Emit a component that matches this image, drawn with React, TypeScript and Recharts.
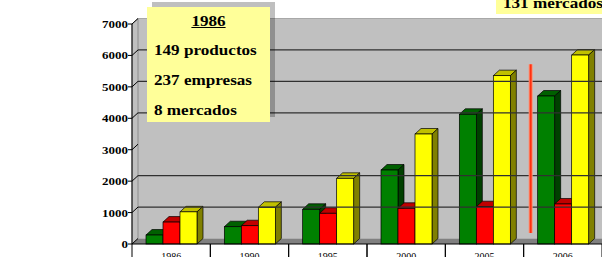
import React from "react";
import { BarChart, Bar, XAxis, YAxis, ReferenceLine, ReferenceArea } from "recharts";

const years = ["1986", "1990", "1995", "2000", "2005", "2006"];
const green = [285, 550, 1104, 2354, 4127, 4709];
const red = [698, 582, 977, 1136, 1187, 1273];
const yellow = [1023, 1168, 2090, 3500, 5356, 6013];
const yTicks = [0, 1000, 2000, 3000, 4000, 5000, 6000, 7000];
const gridValues = [1000, 2000, 4000, 5000, 6000];
const note1986Title = "1986";
const note1986 = ["149 productos", "237 empresas", "8 mercados"];
const note2006 = "131 mercados";
// red divider drawn just before the 2006 group
const dividerYear = "2006";
const dividerRange = [350, 5718];

const data = years.map((year, i) => ({
  year,
  green: green[i],
  red: red[i],
  yellow: yellow[i],
}));

const DX = 6;
const DY = 5.5;
const FONT = '"Liberation Serif", "Times New Roman", serif';
const HALF_BAND = 470 / 6 / 2;

const bar3d = (front: string, top: string, side: string) => (props: any) => {
  const { x, y, width, height } = props;
  if (!height || height <= 0) return <g />;
  return (
    <g stroke="#000" strokeWidth={0.7}>
      <polygon
        points={`${x},${y} ${x + DX},${y - DY} ${x + width + DX},${y - DY} ${x + width},${y}`}
        fill={top}
      />
      <polygon
        points={`${x + width},${y} ${x + width + DX},${y - DY} ${x + width + DX},${y + height - DY} ${x + width},${y + height}`}
        fill={side}
      />
      <rect x={x} y={y} width={width} height={height} fill={front} />
    </g>
  );
};

const Walls = (props: any) => {
  const { x, y, width, height } = props;
  const b = y + height;
  return (
    <g>
      <rect x={x + DX} y={y - DY} width={width - DX} height={height} fill="#c0c0c0" />
      <line x1={x + DX} y1={y - DY} x2={x + width} y2={y - DY} stroke="#a8a8a8" />
      <polygon
        points={`${x},${y} ${x + DX},${y - DY} ${x + DX},${b - DY} ${x},${b}`}
        fill="#c0c0c0"
        stroke="#808080"
        strokeWidth={0.8}
      />
      <polygon
        points={`${x},${b} ${x + DX},${b - DY} ${x + width},${b - DY} ${x + width},${b}`}
        fill="#808080"
      />
    </g>
  );
};

const GridLine = (props: any) => {
  const { x1, y1, x2, y2 } = props;
  return <line x1={x1 + DX} y1={y1 - DY} x2={x2} y2={y2 - DY} stroke="#303030" strokeWidth={1.3} />;
};

const Divider = (props: any) => {
  const { x1, y1, x2, y2 } = props;
  // sits a little right of the 2005/2006 boundary
  const shift = -HALF_BAND + 7;
  return (
    <g>
      <line x1={x1 + shift} y1={y1} x2={x2 + shift} y2={y2} stroke="#ff9070" strokeWidth={4} />
      <line x1={x1 + shift} y1={y1} x2={x2 + shift} y2={y2} stroke="#ff3010" strokeWidth={2} />
    </g>
  );
};

const YTick = (props: any) => {
  const { x, y, payload } = props;
  return (
    <g>
      <line x1={x - 4} y1={y} x2={x} y2={y} stroke="#000" />
      <line x1={x} y1={y} x2={x + DX} y2={y - DY} stroke="#000" />
      <text
        transform={`translate(${x - 4},${y + 4}) scale(1.18,1)`}
        textAnchor="end"
        fontFamily={FONT}
        fontWeight="bold"
        fontSize={11}
        fill="#000"
      >
        {payload.value}
      </text>
    </g>
  );
};

const XTick = (props: any) => {
  const { x, y, payload } = props;
  return (
    <g>
      <line x1={x - HALF_BAND} y1={y} x2={x - HALF_BAND} y2={y + 14} stroke="#000" />
      <line x1={x + HALF_BAND} y1={y} x2={x + HALF_BAND} y2={y + 14} stroke="#000" />
      <text x={x} y={y + 16} textAnchor="middle" fontFamily={FONT} fontSize={10} fill="#000">
        {payload.value}
      </text>
    </g>
  );
};

const boxStyle: React.CSSProperties = {
  position: "absolute",
  background: "#ffff99",
  boxShadow: "5px -5px 0 rgba(0,0,0,0.25)",
  fontFamily: FONT,
  fontWeight: "bold",
  fontSize: 15,
  color: "#000",
};

const lineStyle = (center: number): React.CSSProperties => ({
  position: "absolute",
  left: 7,
  top: center - 9,
  height: 18,
  lineHeight: "18px",
  whiteSpace: "nowrap",
  transform: "scaleX(1.14)",
  transformOrigin: "left center",
});

export default function App() {
  return (
    <div style={{ position: "absolute", left: 0, top: 0, width: 602, height: 257, overflow: "hidden", background: "#fff" }}>
      <BarChart
        width={602}
        height={257}
        data={data}
        margin={{ top: 24, right: 0, bottom: 0, left: 0 }}
        barGap={0}
        barSize={17}
      >
        <XAxis
          dataKey="year"
          height={13}
          tickSize={0}
          tickMargin={0}
          tickLine={false}
          axisLine={{ stroke: "#000" }}
          tick={<XTick />}
          interval={0}
        />
        <YAxis
          domain={[0, 7000]}
          ticks={yTicks}
          width={132}
          tickSize={0}
          tickMargin={0}
          tickLine={false}
          axisLine={{ stroke: "#000" }}
          tick={<YTick />}
          interval={0}
        />
        <ReferenceArea y1={0} y2={7000} shape={<Walls />} />
        {gridValues.map((v) => (
          <ReferenceLine key={v} y={v} shape={<GridLine />} />
        ))}
        <Bar dataKey="green" shape={bar3d("#008000", "#006000", "#004000")} isAnimationActive={false} />
        <Bar dataKey="red" shape={bar3d("#ff0000", "#c00000", "#800000")} isAnimationActive={false} />
        <Bar dataKey="yellow" shape={bar3d("#ffff00", "#c0c000", "#808000")} isAnimationActive={false} />
        <ReferenceLine
          segment={[
            { x: dividerYear, y: dividerRange[0] },
            { x: dividerYear, y: dividerRange[1] },
          ]}
          shape={<Divider />}
        />
      </BarChart>
      <div style={{ ...boxStyle, left: 147, top: 7, width: 123, height: 115 }}>
        <div
          style={{
            position: "absolute",
            left: 0,
            right: 0,
            top: 14 - 9,
            height: 18,
            lineHeight: "18px",
            textAlign: "center",
            textDecoration: "underline",
            transform: "scaleX(1.14)",
          }}
        >
          {note1986Title}
        </div>
        {note1986.map((t, i) => (
          <div key={t} style={lineStyle(43 + i * 30)}>
            {t}
          </div>
        ))}
      </div>
      <div style={{ ...boxStyle, left: 496, top: -16, width: 120, height: 30 }}>
        <div style={lineStyle(19)}>{note2006}</div>
      </div>
    </div>
  );
}
